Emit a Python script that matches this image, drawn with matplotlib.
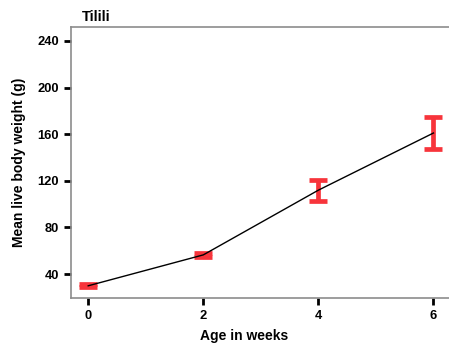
import matplotlib
matplotlib.use('Agg')
matplotlib.rcParams.update({
    'font.family': ['Liberation Sans', 'DejaVu Sans'],
    'font.weight': 'bold',
})
import matplotlib.pyplot as plt

# Mean live body weight of Tilili chickens by age
weeks = [0, 2, 4, 6]
mean_weight = [30, 56.5, 112, 161]
weight_err = [1.3, 1.8, 9, 14]
y_ticks = [40, 80, 120, 160, 200, 240]
x_ticks = [0, 2, 4, 6]

fig = plt.figure(figsize=(4.49, 3.49), dpi=100)
ax = fig.add_axes([0.158, 0.146, 0.842, 0.777])

ax.errorbar(weeks, mean_weight, yerr=weight_err, fmt='none',
            ecolor='#f7343b', elinewidth=3.4, capsize=6.3, capthick=3.4, zorder=2)
ax.plot(weeks, mean_weight, color='black', linewidth=1.0, zorder=3)

ax.set_xlim(-0.3, 6.27)
ax.set_ylim(19.5, 252)
ax.set_xticks(x_ticks)
ax.set_yticks(y_ticks)
ax.tick_params(axis='both', direction='out', length=5, width=2,
               colors='black', labelsize=9.3)
for lbl in ax.get_xticklabels() + ax.get_yticklabels():
    lbl.set_fontweight('bold')

for side in ['left', 'bottom', 'top']:
    ax.spines[side].set_color('#8c8c8c')
    ax.spines[side].set_linewidth(1.2)
ax.spines['right'].set_visible(False)

ax.set_xlabel('Age in weeks', fontsize=10, fontweight='bold')
ax.xaxis.set_label_coords(0.458, -0.115)
ax.set_ylabel('Mean live body weight (g)', fontsize=10, fontweight='bold', labelpad=8)
ax.set_title('Tilili', fontsize=10.5, fontweight='bold', loc='left', pad=4, x=0.028)

fig.savefig('out.png', dpi=100)
